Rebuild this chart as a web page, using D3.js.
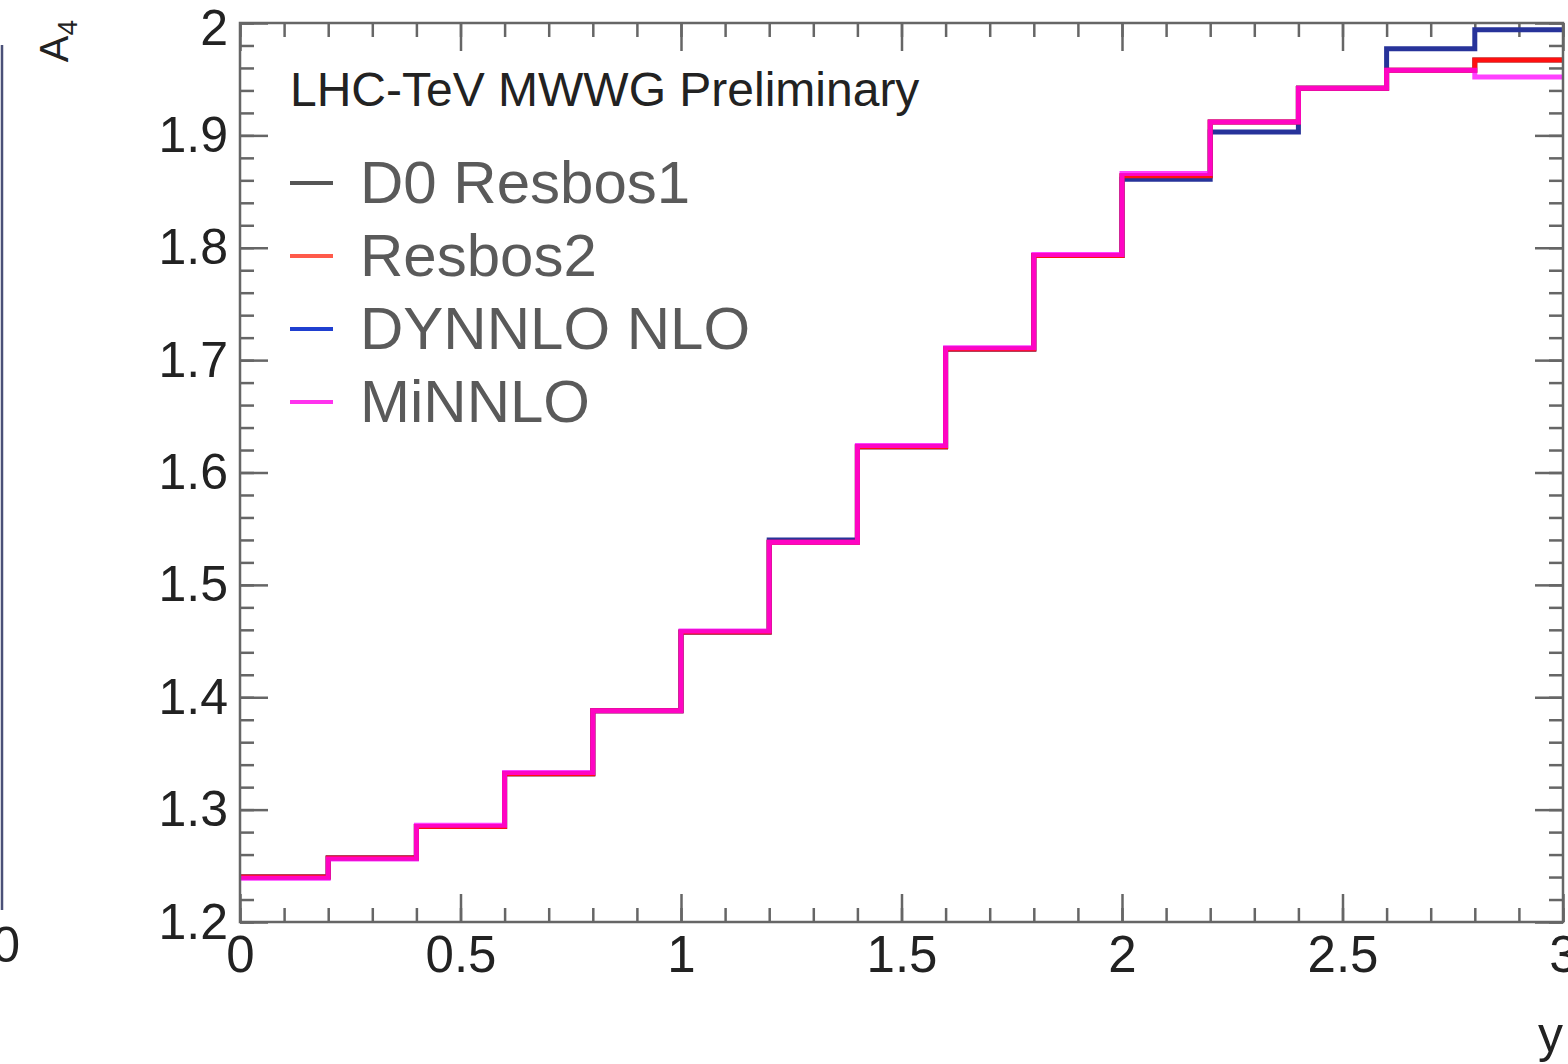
<!DOCTYPE html>
<html>
<head>
<meta charset="utf-8">
<script src="https://cdn.jsdelivr.net/npm/d3@7"></script>
<style>
  body { margin: 0; background: #fff; }
  svg { display: block; font-family: "Liberation Sans", Arial, Helvetica, sans-serif; }
</style>
</head>
<body>
<svg id="chart" width="1568" height="1064"></svg>
<script>
// bin edges in y, 0.2 wide
const binEdges = [0, 0.2, 0.4, 0.6, 0.8, 1.0, 1.2, 1.4, 1.6, 1.8, 2.0, 2.2, 2.4, 2.6, 2.8, 3.0]

// A4 per bin
const d0Resbos1 = [1.240, 1.257, 1.285, 1.332, 1.388, 1.458, 1.538, 1.623, 1.710, 1.793, 1.864, 1.912, 1.942, 1.958, 1.967]
const resbos2   = [1.240, 1.257, 1.285, 1.332, 1.388, 1.458, 1.538, 1.623, 1.710, 1.793, 1.864, 1.912, 1.942, 1.958, 1.967]
const dynnloNlo = [1.240, 1.257, 1.285, 1.332, 1.388, 1.458, 1.540, 1.623, 1.710, 1.793, 1.861, 1.903, 1.942, 1.977, 1.994]
const miNNLO    = [1.239, 1.256, 1.286, 1.333, 1.388, 1.459, 1.538, 1.624, 1.711, 1.794, 1.866, 1.912, 1.942, 1.958, 1.952]

const yTicks = [1.2, 1.3, 1.4, 1.5, 1.6, 1.7, 1.8, 1.9, 2.0]
const xTicks = [0, 0.5, 1, 1.5, 2, 2.5, 3]

const series = [
  { name: "D0 Resbos1", values: d0Resbos1, color: "#555555", legend: "#555555", z: 0 },
  { name: "Resbos2", values: resbos2, color: "#ff1010", legend: "#ff5a4a", z: 2 },
  { name: "DYNNLO NLO", values: dynnloNlo, color: "#27339a", legend: "#1f3fd0", z: 1 },
  { name: "MiNNLO", values: miNNLO, color: "#ff00ff", legend: "#ff33ee", opacity: 0.75, z: 3 },
]

const svg = d3.select("#chart")
const frame = { left: 240, right: 1563, top: 23, bottom: 922 }
const axisColor = "#666"

const x = d3.scaleLinear().domain([0, 3]).range([frame.left, frame.right])
const y = d3.scaleLinear().domain([1.2, 2.0]).range([frame.bottom, frame.top])

// bit of the neighbouring panel on the left
svg.append("line").attr("x1", 2).attr("x2", 2).attr("y1", 45).attr("y2", 910)
  .attr("stroke", "#4a5078").attr("stroke-width", 2.5)
svg.append("text").attr("x", 20).attr("y", 962).attr("text-anchor", "end")
  .attr("font-size", 50).attr("fill", "#222").text("0")

// minor ticks
const xMinor = d3.range(0, 3.0001, 0.1)
const yMinor = d3.range(1.2, 2.0001, 0.02)

function drawAxis(axis, transform) {
  const g = svg.append("g").attr("transform", transform).call(axis)
  g.select(".domain").remove()
  g.selectAll(".tick line").attr("stroke", axisColor).attr("stroke-width", 2.5)
  return g
}

drawAxis(d3.axisLeft(y).tickValues(yMinor).tickSize(-14).tickFormat(""), `translate(${frame.left},0)`)
drawAxis(d3.axisRight(y).tickValues(yMinor).tickSize(-14).tickFormat(""), `translate(${frame.right},0)`)
drawAxis(d3.axisBottom(x).tickValues(xMinor).tickSize(-14).tickFormat(""), `translate(0,${frame.bottom})`)
drawAxis(d3.axisTop(x).tickValues(xMinor).tickSize(-14).tickFormat(""), `translate(0,${frame.top})`)

const yl = drawAxis(d3.axisLeft(y).tickValues(yTicks).tickSize(-28).tickPadding(12).tickFormat(d3.format("~g")), `translate(${frame.left},0)`)
yl.selectAll("text").attr("font-size", 50).attr("fill", "#222")
  .attr("font-family", "Liberation Sans, Arial, sans-serif")
// keep the top label inside the picture
yl.selectAll("text").filter(d => d === 2.0).attr("dy", "0.42em")
drawAxis(d3.axisRight(y).tickValues(yTicks).tickSize(-28).tickFormat(""), `translate(${frame.right},0)`)

const xl = drawAxis(d3.axisBottom(x).tickValues(xTicks).tickSize(-28).tickPadding(14).tickFormat(d3.format("~g")), `translate(0,${frame.bottom})`)
xl.selectAll("text").attr("font-size", 51).attr("fill", "#222")
  .attr("font-family", "Liberation Sans, Arial, sans-serif")
drawAxis(d3.axisTop(x).tickValues(xTicks).tickSize(-28).tickFormat(""), `translate(0,${frame.top})`)

// histograms
const line = d3.line()
  .x(d => x(d[0]))
  .y(d => y(d[1]))
  .curve(d3.curveStepAfter)

series.slice().sort((a, b) => a.z - b.z).forEach(s => {
  const pts = s.values.map((v, i) => [binEdges[i], v])
  pts.push([binEdges[binEdges.length - 1], s.values[s.values.length - 1]])
  svg.append("path")
    .datum(pts)
    .attr("fill", "none")
    .attr("stroke", s.color)
    .attr("stroke-width", 5)
    .attr("stroke-opacity", s.opacity || 1)
    .attr("d", line)
})

// frame
svg.append("rect")
  .attr("x", frame.left).attr("y", frame.top)
  .attr("width", frame.right - frame.left).attr("height", frame.bottom - frame.top)
  .attr("fill", "none").attr("stroke", axisColor).attr("stroke-width", 2.5)

// axis titles
svg.append("text")
  .attr("transform", "translate(68,20) rotate(-90)")
  .attr("text-anchor", "end").attr("font-size", 40).attr("fill", "#222")
  .html('A<tspan font-size="28" dy="9">4</tspan>')
svg.append("text").attr("x", 1563).attr("y", 1052).attr("text-anchor", "end")
  .attr("font-size", 50).attr("fill", "#222").text("y")

// legend
svg.append("text").attr("x", 290).attr("y", 106).attr("font-size", 48).attr("fill", "#222")
  .text("LHC-TeV MWWG Preliminary")

const leg = svg.append("g")
series.forEach((s, i) => {
  const ly = 183 + i * 73
  leg.append("line").attr("x1", 290).attr("x2", 333).attr("y1", ly).attr("y2", ly)
    .attr("stroke", s.legend).attr("stroke-width", 4)
  leg.append("text").attr("x", 360).attr("y", ly + 20).attr("font-size", 60).attr("fill", "#5a5a5a")
    .text(s.name)
})
</script>
</body>
</html>
